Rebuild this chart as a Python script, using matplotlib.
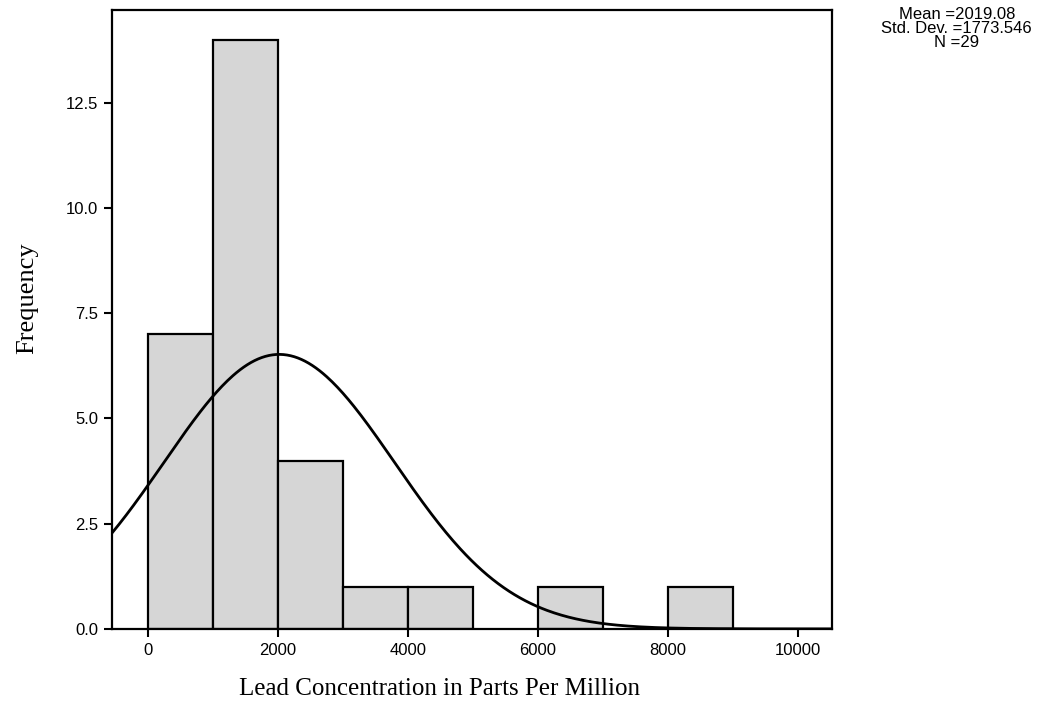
import numpy as np
import matplotlib.pyplot as plt

# histogram of lead concentration (ppm), bin width 1000
bin_edges = [0, 1000, 2000, 3000, 4000, 5000, 6000, 7000, 8000, 9000]
counts = [7, 14, 4, 1, 1, 0, 1, 0, 1]
mean_ppm = 2019.08
std_ppm = 1773.546
n_obs = 29

x_ticks = [0, 2000, 4000, 6000, 8000, 10000]
y_ticks = [0.0, 2.5, 5.0, 7.5, 10.0, 12.5]

fig = plt.figure(figsize=(10.56, 7.09), dpi=100)
ax = fig.add_axes([0.106, 0.113, 0.682, 0.873])

lefts = np.array(bin_edges[:-1])
widths = np.diff(bin_edges)
for l, w, c in zip(lefts, widths, counts):
    if c > 0:
        ax.bar(l, c, width=w, align="edge", color="#d6d6d6",
               edgecolor="black", linewidth=1.6, zorder=2)

xlo, xhi = -554, 10523
xs = np.linspace(xlo, xhi, 400)
bw = bin_edges[1] - bin_edges[0]
ys = n_obs * bw / (std_ppm * np.sqrt(2 * np.pi)) * np.exp(-0.5 * ((xs - mean_ppm) / std_ppm) ** 2)
ax.plot(xs, ys, color="black", linewidth=2, zorder=3)

ax.set_xlim(xlo, xhi)
ax.set_ylim(0, 14.71)
ax.set_xticks(x_ticks)
ax.set_xticklabels([str(t) for t in x_ticks])
ax.set_yticks(y_ticks)
ax.set_yticklabels([f"{t:.1f}" for t in y_ticks])
ax.tick_params(direction="out", length=6, width=1.5, labelsize=12, pad=4)
for lab in ax.get_xticklabels() + ax.get_yticklabels():
    lab.set_family("Liberation Sans")
for s in ax.spines.values():
    s.set_linewidth(1.6)

ax.set_xlabel("Lead Concentration in Parts Per Million", family="Liberation Serif",
              fontsize=18)
ax.xaxis.set_label_coords(0.455, -0.08)
ax.set_ylabel("Frequency", family="Liberation Serif", fontsize=19)
ax.yaxis.set_label_coords(-0.102, 0.535)

stats = f"Mean ={mean_ppm:.2f}\nStd. Dev. ={std_ppm:.3f}\nN ={n_obs}"
fig.text(0.906, 0.99, stats, ha="center", va="top", family="Liberation Sans",
         fontsize=12, linespacing=0.92)

fig.savefig("out.png", dpi=100)
